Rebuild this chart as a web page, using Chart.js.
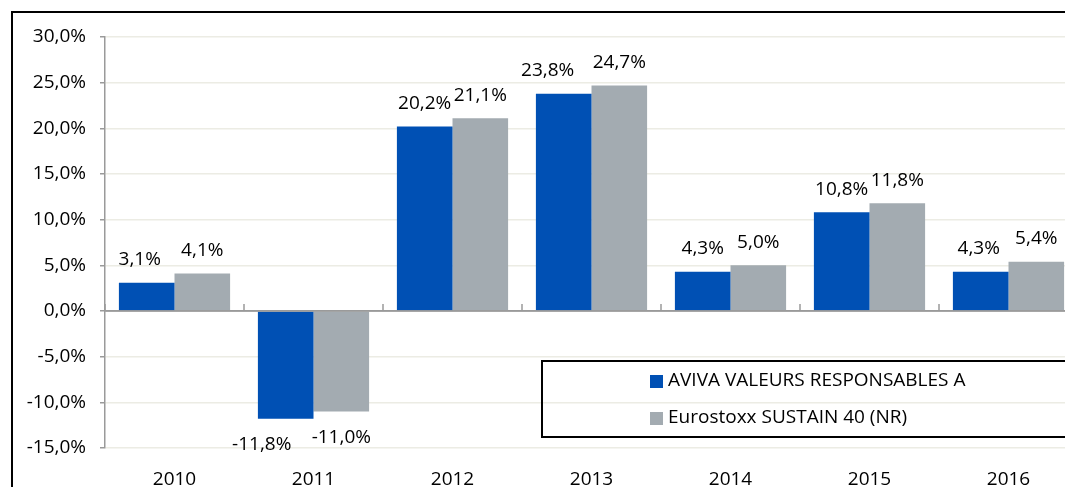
<!DOCTYPE html>
<html>
<head>
<meta charset="utf-8">
<script src="https://cdn.jsdelivr.net/npm/chart.js@4/dist/chart.umd.min.js"></script>
<style>
    html, body { margin: 0; padding: 0; background: #fff; overflow: hidden; }
    #wrap { position: relative; width: 1100px; height: 487px; }
</style>
</head>
<body>
<div id="wrap"><canvas id="chart"></canvas></div>
<script>
// Annual performance: fund vs benchmark
const years = ['2010', '2011', '2012', '2013', '2014', '2015', '2016'];
const fundLabel = 'AVIVA VALEURS RESPONSABLES A';
const fundValues = [3.1, -11.8, 20.2, 23.8, 4.3, 10.8, 4.3];
const indexLabel = 'Eurostoxx SUSTAIN 40 (NR)';
const indexValues = [4.1, -11.0, 21.1, 24.7, 5.0, 11.8, 5.4];
const yTicks = { min: -15, max: 30, step: 5 };

const FONT = '"Open Sans", "Noto Sans", sans-serif';
const FONT_SIZE = 19;
const BLUE = '#0050b4';
const GREY = '#a3abb1';
const GRID = '#ecece4';
const AXIS = '#9a9a9a';
const TEXT = '#000';

// hand-nudged labels in the original (moved left to avoid neighbours)
const fundLabelShift = [-7, -24, 0, -16, 0, 0, -2];
const indexLabelShift = [0, 0, 0, 0, 0, 0, 0];

const pct = v => v.toFixed(1).replace('.', ',') + '%';

// outer frame: only left/top edges are inside the window
const framePlugin = {
    id: 'frame',
    beforeDraw(chart) {
        const ctx = chart.ctx;
        ctx.save();
        ctx.strokeStyle = '#000';
        ctx.lineWidth = 2;
        ctx.strokeRect(12, 12, 2000, 2000);
        ctx.restore();
    },
};

// zero axis line + small category ticks pointing up
const zeroAxisPlugin = {
    id: 'zeroAxis',
    afterDatasetsDraw(chart) {
        const { ctx, chartArea } = chart;
        const x = chart.scales.x;
        const y0 = chart.scales.y.getPixelForValue(0);
        ctx.save();
        ctx.strokeStyle = AXIS;
        ctx.lineWidth = 1.5;
        ctx.beginPath();
        ctx.moveTo(chartArea.left, y0);
        ctx.lineTo(chartArea.right, y0);
        const step = x.getPixelForTick(1) - x.getPixelForTick(0);
        for (let i = 0; i <= years.length; i++) {
            const bx = x.getPixelForTick(0) - step / 2 + i * step;
            ctx.moveTo(bx, y0);
            ctx.lineTo(bx, y0 - 7);
        }
        ctx.stroke();
        ctx.restore();
    },
};

// value labels outside the end of each bar
const valueLabelPlugin = {
    id: 'valueLabels',
    afterDatasetsDraw(chart) {
        const ctx = chart.ctx;
        const shifts = [fundLabelShift, indexLabelShift];
        ctx.save();
        ctx.font = FONT_SIZE + 'px ' + FONT;
        ctx.fillStyle = TEXT;
        ctx.textAlign = 'center';
        ctx.textBaseline = 'middle';
        chart.data.datasets.forEach((ds, di) => {
            chart.getDatasetMeta(di).data.forEach((bar, i) => {
                const v = ds.data[i];
                const y = v >= 0 ? bar.y - 23 : bar.y + 26;
                ctx.fillText(pct(v), bar.x + shifts[di][i], y);
            });
        });
        ctx.restore();
    },
};

// boxed legend sitting in the lower right of the plot
const legendBoxPlugin = {
    id: 'legendBox',
    afterDraw(chart) {
        const ctx = chart.ctx;
        ctx.save();
        ctx.strokeStyle = '#000';
        ctx.lineWidth = 2;
        ctx.strokeRect(542, 361, 1000, 76);
        ctx.font = FONT_SIZE + 'px ' + FONT;
        ctx.textBaseline = 'middle';
        chart.data.datasets.forEach((ds, i) => {
            const cy = 381 + i * 37;
            ctx.fillStyle = ds.backgroundColor;
            ctx.fillRect(650, cy - 6, 13, 13);
            ctx.fillStyle = TEXT;
            ctx.fillText(ds.label, 668, cy);
        });
        ctx.restore();
    },
};

new Chart(document.getElementById('chart'), {
    type: 'bar',
    data: {
        labels: years,
        datasets: [
            { label: fundLabel, data: fundValues, backgroundColor: BLUE },
            { label: indexLabel, data: indexValues, backgroundColor: GREY },
        ],
    },
    options: {
        responsive: true,
        maintainAspectRatio: false,
        animation: false,
        layout: { padding: { left: 0, right: 22, top: 37, bottom: 0 } },
        datasets: { bar: { categoryPercentage: 0.8, barPercentage: 1.0 } },
        plugins: {
            legend: { display: false },
            tooltip: { enabled: false },
        },
        scales: {
            x: {
                grid: { display: false },
                border: { display: false },
                ticks: { font: { family: FONT, size: FONT_SIZE }, color: TEXT, padding: 12 },
                afterFit: s => { s.height = 39; },
            },
            y: {
                min: yTicks.min,
                max: yTicks.max,
                grid: {
                    color: ctx => ctx.tick && ctx.tick.value === 0 ? AXIS : GRID,
                    lineWidth: 1.5,
                    tickColor: AXIS,
                    tickLength: 5,
                },
                border: { display: true, color: AXIS, width: 1.5 },
                ticks: {
                    stepSize: yTicks.step,
                    padding: 14,
                    font: { family: FONT, size: FONT_SIZE },
                    color: TEXT,
                    callback: v => pct(v),
                },
                afterFit: s => { s.width = 105; },
            },
        },
    },
    plugins: [framePlugin, zeroAxisPlugin, valueLabelPlugin, legendBoxPlugin],
});
</script>
</body>
</html>
